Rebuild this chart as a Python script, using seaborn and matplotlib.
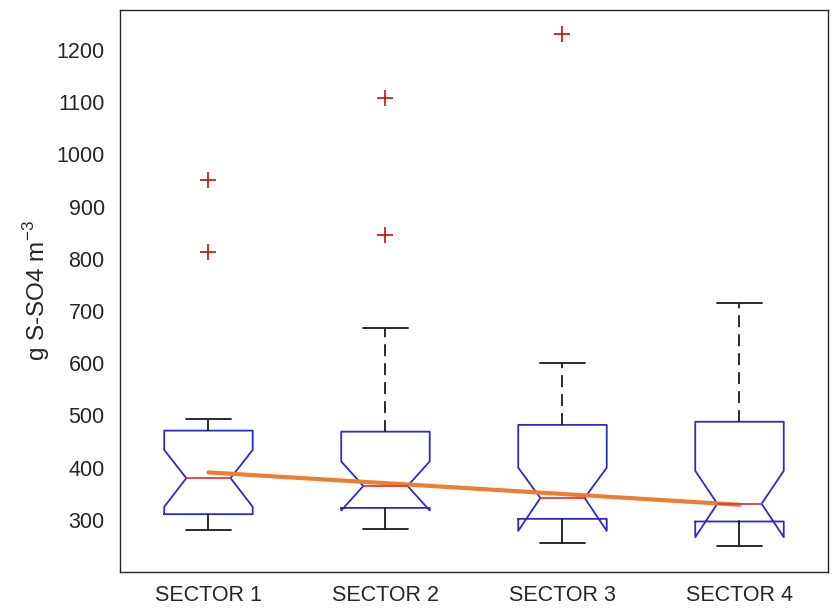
import matplotlib
matplotlib.use("Agg")
import matplotlib.pyplot as plt
import seaborn as sns
import pandas as pd

# Sulphate concentration per sector (g S-SO4 m-3): box-plot summary statistics
sectors = ["SECTOR 1", "SECTOR 2", "SECTOR 3", "SECTOR 4"]
whisker_low = [281, 283, 256, 250]
q1 = [311, 323, 302, 297]
median = [380, 365, 342, 331]
q3 = [471, 469, 482, 488]
whisker_high = [494, 668, 601, 716]
notch_low = [325, 318, 279, 267]
notch_high = [434, 412, 400, 394]
outliers = [[951, 813], [1108, 846], [1231], []]

# Linear trend across sectors
trend_pos = [1, 4]
trend_val = [391, 329]

sns.set_style("white")
plt.rcParams["font.family"] = ["Liberation Sans", "DejaVu Sans"]

fig = plt.figure(figsize=(8.33, 6.08), dpi=100)
ax = fig.add_axes([0.144, 0.059, 0.850, 0.925])

stats = []
for i, name in enumerate(sectors):
    stats.append(dict(label=name, whislo=whisker_low[i], q1=q1[i], med=median[i],
                      q3=q3[i], whishi=whisker_high[i], cilo=notch_low[i],
                      cihi=notch_high[i], fliers=outliers[i]))

box_col = "#2b2bc8"
parts = ax.bxp(stats, positions=[1, 2, 3, 4], widths=0.5, shownotches=True,
               showfliers=True, patch_artist=False,
               boxprops=dict(color=box_col, linewidth=1.3),
               medianprops=dict(color="#e03a3a", linewidth=1.3),
               whiskerprops=dict(color="#1a1a1a", linewidth=1.3,
                                 linestyle=(0, (6.6, 3.9))),
               capprops=dict(color="#1a1a1a", linewidth=1.3),
               capwidths=0.25,
               flierprops=dict(marker="+", markersize=11, markeredgecolor="#c01010",
                               markeredgewidth=1.2, linestyle="none"))
# short lower whiskers read as solid strokes
for w in parts["whiskers"][0::2]:
    w.set_linestyle("-")

trend = pd.DataFrame({"pos": trend_pos, "val": trend_val})
sns.lineplot(data=trend, x="pos", y="val", ax=ax, color="#ed7d31", linewidth=3)

ax.set_xlim(0.5, 4.5)
ax.set_ylim(200, 1277)
ax.set_xticks([1, 2, 3, 4])
ax.set_xticklabels(sectors)
ax.set_yticks(range(300, 1201, 100))
ax.set_xlabel("")
ax.set_ylabel("g S-SO4 m$^{\\mathregular{-3}}$", fontsize=17.5, color="#262626",
              labelpad=3)
ax.tick_params(direction="in", length=5, width=1, labelsize=15.5,
               labelcolor="#262626", color="#262626", pad=11)
ax.tick_params(axis="x", pad=9)
for s in ax.spines.values():
    s.set_visible(True)
    s.set_color("#262626")
    s.set_linewidth(1)

fig.savefig("out.png", dpi=100, facecolor="white")
